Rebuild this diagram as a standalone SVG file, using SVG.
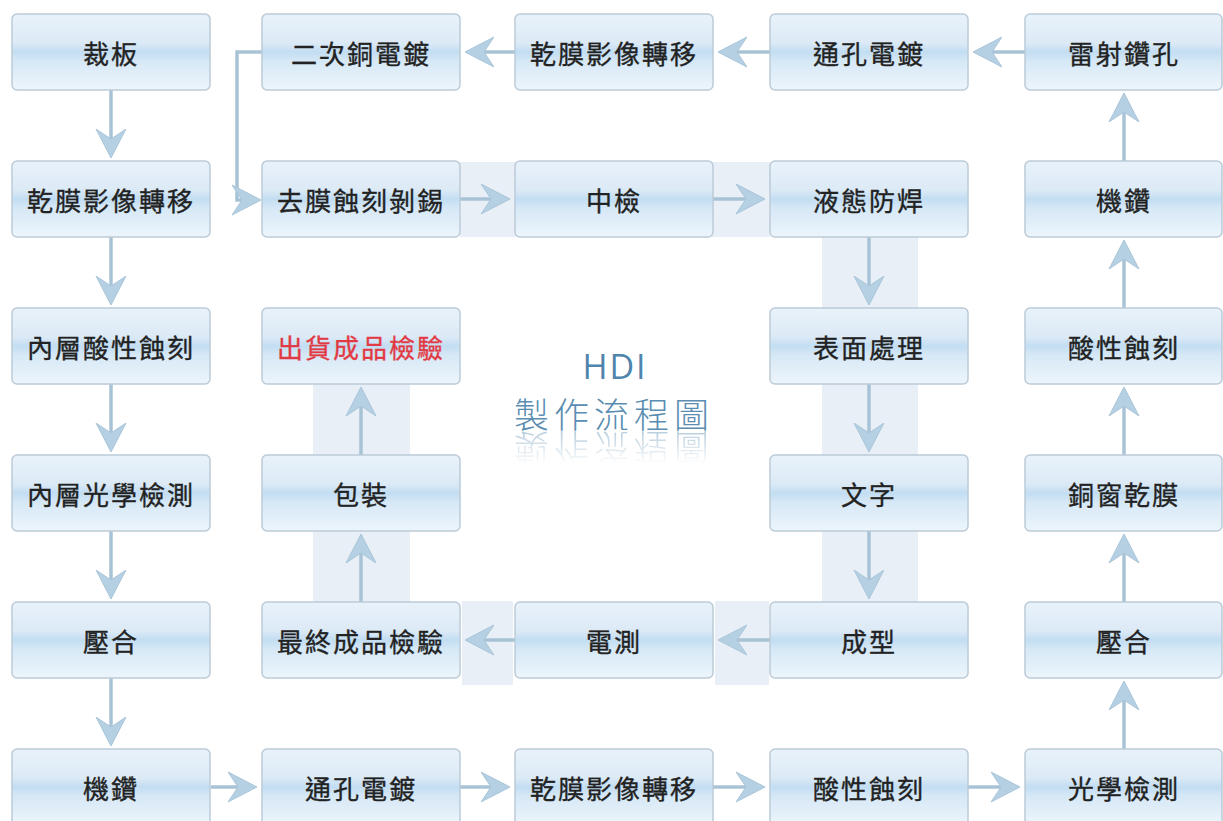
<svg xmlns="http://www.w3.org/2000/svg" xmlns:xlink="http://www.w3.org/1999/xlink" width="1223" height="821" viewBox="0 0 1223 821">
<defs>
  <linearGradient id="boxg" x1="0" y1="0" x2="0" y2="1">
    <stop offset="0" stop-color="#e9f2fa"/>
    <stop offset="0.38" stop-color="#dceaf6"/>
    <stop offset="0.5" stop-color="#c2ddf2"/>
    <stop offset="0.62" stop-color="#d6e8f6"/>
    <stop offset="1" stop-color="#edf5fb"/>
  </linearGradient>
  <linearGradient id="refl" x1="0" y1="0" x2="0" y2="1">
    <stop offset="0" stop-color="#fff" stop-opacity="0.45"/>
    <stop offset="1" stop-color="#fff" stop-opacity="0"/>
  </linearGradient>
  <mask id="reflmask" maskUnits="userSpaceOnUse" x="480" y="428" width="260" height="45">
    <rect x="480" y="430" width="260" height="34" fill="url(#refl)"/>
  </mask>
  <marker id="ah" viewBox="0 0 30 32" markerWidth="30" markerHeight="32" refX="10" refY="16" orient="auto" markerUnits="userSpaceOnUse">
    <path d="M29,16 L0,1 L10,16 L0,31 Z" fill="#b5d0e3" stroke="#a9c5d9" stroke-width="1"/>
  </marker>
</defs>
<style>
  .band { fill: #e8eff6; }
  .box { fill: url(#boxg); stroke: #bccbd8; stroke-width: 1.5; }
  .lbl { font-family: "Noto Sans CJK TC", "Noto Sans CJK SC", sans-serif; font-size: 26px; letter-spacing: 2px; fill: #222; stroke: #222; stroke-width: 0.35px; text-anchor: middle; dominant-baseline: central; }
  .red { fill: #e23a44; stroke: #e23a44; }
  .conn { fill: none; stroke: #a9c3d6; stroke-width: 3.5; marker-end: url(#ah); }
  .title1 { font-family: "Open Sans", "Liberation Sans", sans-serif; font-size: 34px; letter-spacing: 2px; fill: #4f85ac; text-anchor: middle; }
  .title2 { font-family: "Noto Sans CJK TC", sans-serif; font-weight: 300; font-size: 35px; letter-spacing: 5px; fill: #5a8db1; text-anchor: middle; }
</style>
<rect width="1223" height="821" fill="#ffffff"/>

<g id="bands">
  <rect class="band" x="460" y="162" width="310" height="75"/>
  <rect class="band" x="822" y="237" width="96" height="365"/>
  <rect class="band" x="313" y="383" width="97" height="219"/>
  <rect class="band" x="462" y="601" width="51" height="84"/>
  <rect class="band" x="715" y="601" width="54" height="84"/>
</g>

<g id="connectors">
  <path class="conn" d="M111,90 V139"/>
  <path class="conn" d="M111,237 V286"/>
  <path class="conn" d="M111,384 V433"/>
  <path class="conn" d="M111,531 V580"/>
  <path class="conn" d="M111,678 V727"/>
  <path class="conn" d="M211,787 H238"/>
  <path class="conn" d="M460,787 H491"/>
  <path class="conn" d="M713,787 H746"/>
  <path class="conn" d="M968,787 H1001"/>
  <path class="conn" d="M1124,749 V700"/>
  <path class="conn" d="M1124,602 V553"/>
  <path class="conn" d="M1124,455 V406"/>
  <path class="conn" d="M1124,308 V259"/>
  <path class="conn" d="M1124,161 V112"/>
  <path class="conn" d="M1025,52 H992"/>
  <path class="conn" d="M770,52 H737"/>
  <path class="conn" d="M515,52 H484"/>
  <path class="conn" d="M262,52 H237 V200 H242"/>
  <path class="conn" d="M460,199 H491"/>
  <path class="conn" d="M713,199 H746"/>
  <path class="conn" d="M869,237 V286"/>
  <path class="conn" d="M869,384 V433"/>
  <path class="conn" d="M869,531 V580"/>
  <path class="conn" d="M770,640 H737"/>
  <path class="conn" d="M515,640 H484"/>
  <path class="conn" d="M361,602 V553"/>
  <path class="conn" d="M361,455 V406"/>
</g>

<g id="n-r0c0"><rect class="box" x="12" y="14" width="198" height="76" rx="5"/><text class="lbl" x="111" y="52">裁板</text></g>
<g id="n-r0c1"><rect class="box" x="262" y="14" width="198" height="76" rx="5"/><text class="lbl" x="361" y="52">二次銅電鍍</text></g>
<g id="n-r0c2"><rect class="box" x="515" y="14" width="198" height="76" rx="5"/><text class="lbl" x="614" y="52">乾膜影像轉移</text></g>
<g id="n-r0c3"><rect class="box" x="770" y="14" width="198" height="76" rx="5"/><text class="lbl" x="869" y="52">通孔電鍍</text></g>
<g id="n-r0c4"><rect class="box" x="1025" y="14" width="197" height="76" rx="5"/><text class="lbl" x="1124" y="52">雷射鑽孔</text></g>

<g id="n-r1c0"><rect class="box" x="12" y="161" width="198" height="76" rx="5"/><text class="lbl" x="111" y="199">乾膜影像轉移</text></g>
<g id="n-r1c1"><rect class="box" x="262" y="161" width="198" height="76" rx="5"/><text class="lbl" x="361" y="199">去膜蝕刻剝錫</text></g>
<g id="n-r1c2"><rect class="box" x="515" y="161" width="198" height="76" rx="5"/><text class="lbl" x="614" y="199">中檢</text></g>
<g id="n-r1c3"><rect class="box" x="770" y="161" width="198" height="76" rx="5"/><text class="lbl" x="869" y="199">液態防焊</text></g>
<g id="n-r1c4"><rect class="box" x="1025" y="161" width="197" height="76" rx="5"/><text class="lbl" x="1124" y="199">機鑽</text></g>

<g id="n-r2c0"><rect class="box" x="12" y="308" width="198" height="76" rx="5"/><text class="lbl" x="111" y="346">內層酸性蝕刻</text></g>
<g id="n-r2c1"><rect class="box" x="262" y="308" width="198" height="76" rx="5"/><text class="lbl red" x="361" y="346">出貨成品檢驗</text></g>
<g id="n-r2c3"><rect class="box" x="770" y="308" width="198" height="76" rx="5"/><text class="lbl" x="869" y="346">表面處理</text></g>
<g id="n-r2c4"><rect class="box" x="1025" y="308" width="197" height="76" rx="5"/><text class="lbl" x="1124" y="346">酸性蝕刻</text></g>

<g id="n-r3c0"><rect class="box" x="12" y="455" width="198" height="76" rx="5"/><text class="lbl" x="111" y="493">內層光學檢測</text></g>
<g id="n-r3c1"><rect class="box" x="262" y="455" width="198" height="76" rx="5"/><text class="lbl" x="361" y="493">包裝</text></g>
<g id="n-r3c3"><rect class="box" x="770" y="455" width="198" height="76" rx="5"/><text class="lbl" x="869" y="493">文字</text></g>
<g id="n-r3c4"><rect class="box" x="1025" y="455" width="197" height="76" rx="5"/><text class="lbl" x="1124" y="493">銅窗乾膜</text></g>

<g id="n-r4c0"><rect class="box" x="12" y="602" width="198" height="76" rx="5"/><text class="lbl" x="111" y="640">壓合</text></g>
<g id="n-r4c1"><rect class="box" x="262" y="602" width="198" height="76" rx="5"/><text class="lbl" x="361" y="640">最終成品檢驗</text></g>
<g id="n-r4c2"><rect class="box" x="515" y="602" width="198" height="76" rx="5"/><text class="lbl" x="614" y="640">電測</text></g>
<g id="n-r4c3"><rect class="box" x="770" y="602" width="198" height="76" rx="5"/><text class="lbl" x="869" y="640">成型</text></g>
<g id="n-r4c4"><rect class="box" x="1025" y="602" width="197" height="76" rx="5"/><text class="lbl" x="1124" y="640">壓合</text></g>

<g id="n-r5c0"><rect class="box" x="12" y="749" width="198" height="76" rx="5"/><text class="lbl" x="111" y="787">機鑽</text></g>
<g id="n-r5c1"><rect class="box" x="262" y="749" width="198" height="76" rx="5"/><text class="lbl" x="361" y="787">通孔電鍍</text></g>
<g id="n-r5c2"><rect class="box" x="515" y="749" width="198" height="76" rx="5"/><text class="lbl" x="614" y="787">乾膜影像轉移</text></g>
<g id="n-r5c3"><rect class="box" x="770" y="749" width="198" height="76" rx="5"/><text class="lbl" x="869" y="787">酸性蝕刻</text></g>
<g id="n-r5c4"><rect class="box" x="1025" y="749" width="197" height="76" rx="5"/><text class="lbl" x="1124" y="787">光學檢測</text></g>

<g id="title">
  <text class="title1" x="615" y="379">HDI</text>
  <text id="t2" class="title2" x="614" y="428">製作流程圖</text>
  <g mask="url(#reflmask)">
    <use xlink:href="#t2" transform="translate(0,862) scale(1,-1)"/>
  </g>
</g>
</svg>
